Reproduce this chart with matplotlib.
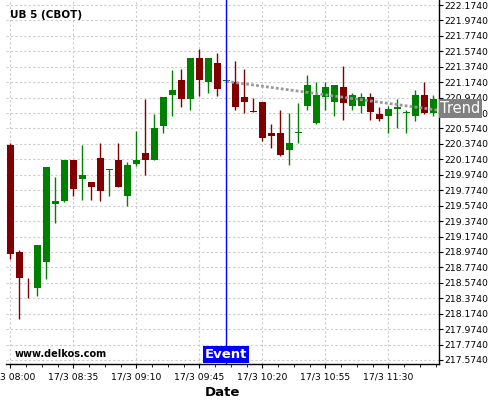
import matplotlib
matplotlib.use("Agg")
import matplotlib.pyplot as plt
import matplotlib.transforms as mtransforms
from matplotlib.ticker import MultipleLocator, FixedLocator
from datetime import datetime, timedelta

# 5-minute candles, 17/3 from 08:00
opens = [220.36, 218.97, 218.64, 218.51, 218.85, 219.60, 219.63, 220.17, 219.92, 219.88,
         220.19, 220.04, 220.17, 219.70, 220.11, 220.25, 220.17, 220.61, 221.01, 221.20,
         220.96, 221.49, 221.18, 221.42, 221.185, 221.18, 220.98, 220.80, 220.92, 220.52,
         220.52, 220.30, 220.52, 220.86, 220.64, 220.98, 220.92, 221.11, 220.86, 220.86,
         220.98, 220.76, 220.74, 220.83, 220.77, 220.74, 221.01, 220.77]
highs = [220.38, 219.00, 218.64, 219.06, 220.08, 219.94, 220.17, 220.17, 220.36, 219.88,
         220.38, 220.05, 220.38, 220.14, 220.54, 220.95, 220.76, 220.98, 221.33, 221.35,
         221.49, 221.61, 221.49, 221.55, 221.185, 221.45, 221.35, 220.97, 220.92, 220.63,
         220.82, 220.78, 220.91, 221.27, 221.17, 221.17, 221.14, 221.39, 221.04, 221.04,
         221.04, 220.85, 220.86, 220.95, 220.82, 221.07, 221.17, 221.01]
lows = [218.88, 218.11, 218.38, 218.40, 218.62, 219.35, 219.62, 219.70, 219.65, 219.65,
        219.63, 219.70, 219.81, 219.57, 220.09, 219.97, 220.16, 220.51, 220.73, 220.85,
        220.82, 221.00, 221.04, 221.00, 221.185, 220.82, 220.78, 220.79, 220.41, 220.32,
        220.22, 220.10, 220.39, 220.82, 220.63, 220.82, 220.73, 220.69, 220.82, 220.78,
        220.69, 220.67, 220.52, 220.58, 220.52, 220.67, 220.76, 220.74]
closes = [218.95, 218.63, 218.63, 219.06, 220.07, 219.64, 220.17, 219.79, 219.97, 219.82,
          219.76, 220.05, 219.82, 220.10, 220.17, 220.17, 220.58, 220.98, 221.07, 220.96,
          221.49, 221.20, 221.49, 221.08, 221.186, 220.85, 220.92, 220.79, 220.45, 220.48,
          220.23, 220.39, 220.53, 221.14, 221.01, 221.11, 221.14, 220.90, 221.01, 220.98,
          220.79, 220.70, 220.83, 220.85, 220.79, 221.01, 220.77, 220.96]

start_time = datetime(2024, 3, 17, 8, 0)
step_minutes = 5
event_index = 24
trend_x = [24, 47.63]
trend_y = [221.185, 220.81]
y_ticks = [round(217.574 + 0.2 * k, 3) for k in range(24)]

fig = plt.figure(figsize=(5, 4), dpi=100)
ax = fig.add_axes([0.012, 0.09, 0.866, 0.91])

n = len(opens)
for i in range(n):
    up = closes[i] >= opens[i]
    col = '#008000' if up else '#800000'
    ax.vlines(i, lows[i], highs[i], color=col, lw=1.0, zorder=3)
    bottom = min(opens[i], closes[i])
    height = max(abs(closes[i] - opens[i]), 0.012)
    ax.bar(i, height, bottom=bottom, width=0.75, color=col, zorder=3)

# trend line
ax.plot(trend_x, trend_y, color='#999999', lw=2, ls=(0, (1, 0.8)), zorder=4)

# event line
ax.axvline(event_index, color='blue', lw=1, zorder=5)
trans = mtransforms.blended_transform_factory(ax.transData, ax.transAxes)
ax.text(event_index, 0.008, 'Event', transform=trans, ha='center', va='bottom',
        color='white', fontsize=9.5, fontweight='bold', zorder=6,
        bbox=dict(boxstyle='square,pad=0.15', fc='blue', ec='none'))

trans2 = mtransforms.blended_transform_factory(ax.transAxes, ax.transData)
ax.text(1.003, 220.83, 'Trend', transform=trans2, ha='left', va='center',
        color='white', fontsize=10.5, zorder=6, clip_on=False,
        bbox=dict(boxstyle='square,pad=0.12', fc='#808080', ec='none'))

ax.text(0.009, 0.96, 'UB 5 (CBOT)', transform=ax.transAxes, fontsize=7.5,
        fontweight='bold', va='center', ha='left')
ax.text(0.021, 0.027, 'www.delkos.com', transform=ax.transAxes, fontsize=7,
        fontweight='bold', va='center', ha='left')

ax.set_xlim(-0.48, 47.63)
ax.set_ylim(217.522, 222.239)

major = list(range(0, n, 7))
labels = [(start_time + timedelta(minutes=step_minutes * i)).strftime('%-d/%-m %H:%M') for i in major]
ax.xaxis.set_major_locator(FixedLocator(major))
ax.set_xticklabels(labels)
ax.xaxis.set_minor_locator(MultipleLocator(1.75))

ax.yaxis.tick_right()
ax.set_yticks(y_ticks)
ax.set_yticklabels(['%.4f' % v for v in y_ticks])

ax.tick_params(axis='both', labelsize=6.7, length=3, width=0.8, pad=1)
ax.tick_params(axis='x', pad=3)
ax.tick_params(axis='x', which='minor', length=2)

for s in ['left', 'top']:
    ax.spines[s].set_visible(False)
ax.spines['right'].set_linewidth(1)
ax.spines['bottom'].set_linewidth(1)

ax.grid(True, color='#cccccc', ls=(0, (2, 2)), lw=0.8, zorder=0)
ax.set_axisbelow(True)

ax.set_xlabel('Date', fontsize=9.5, fontweight='bold', labelpad=3)

fig.savefig('out.png', dpi=100)
